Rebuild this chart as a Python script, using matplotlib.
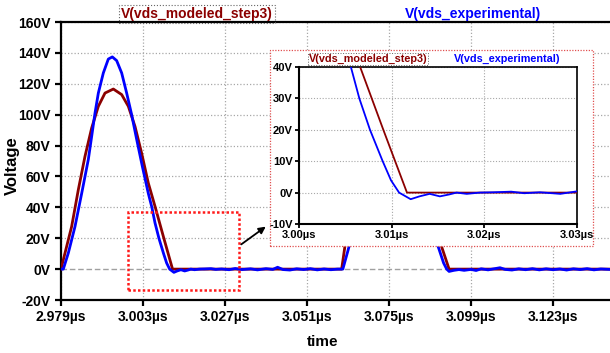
import matplotlib
matplotlib.use("Agg")
import matplotlib.pyplot as plt
from matplotlib.patches import Rectangle

plt.rcParams['font.family'] = ['Liberation Sans', 'DejaVu Sans']
plt.rcParams['font.weight'] = 'bold'

# modeled waveform (time in us, volts)
t_mod = [2.979, 2.9790, 2.98017, 2.98212, 2.98407, 2.98602, 2.98798, 2.98993, 2.99188,
         2.99432, 2.99676, 2.99871, 3.00066, 3.00261, 3.00456, 3.0066, 3.0091, 3.01165,
         3.06115, 3.0621, 3.0636, 3.0656, 3.0675, 3.0695, 3.0714, 3.0734, 3.0758,
         3.0782, 3.0802, 3.0821, 3.0841, 3.0860, 3.0878, 3.0904, 3.0926, 3.1397]
v_mod = [0, 0, 10.4, 27.6, 51.4, 73, 91.4, 105.4, 114,
         116.6, 113, 105.4, 92.4, 75, 55.7, 40, 20, 0,
         0, 14.6, 27.6, 51.4, 73, 91.4, 105.4, 114, 116.6,
         113, 105.4, 92.4, 75, 55.7, 36.3, 14.6, 0, 0]

# measured waveform
t_exp = [2.979, 2.97968, 2.98114, 2.98310, 2.98505, 2.98700, 2.98798, 2.98895, 2.98993,
         2.99139, 2.99285, 2.99402, 2.99529, 2.99676, 2.99822, 2.99968, 3.00115, 3.00281,
         3.00456, 3.0056, 3.00651, 3.00766, 3.00903, 3.00993, 3.0108, 3.01205, 3.0130,
         3.0141, 3.0152, 3.0162, 3.0170, 3.0181, 3.0195, 3.0210, 3.0229, 3.0243, 3.0260,
         3.0282, 3.0300, 3.0320, 3.0345, 3.0365, 3.0390, 3.0410, 3.0424, 3.0440, 3.0460,
         3.0480, 3.0500, 3.0520, 3.0540, 3.0560, 3.0580, 3.0600, 3.0615, 3.0630, 3.0649,
         3.0668, 3.0688, 3.0707, 3.0717, 3.0732, 3.0746, 3.0758, 3.0771, 3.0785, 3.0800,
         3.0814, 3.0829, 3.0845, 3.0862, 3.0880, 3.0894, 3.0910, 3.0919, 3.0926, 3.0940,
         3.0955, 3.0970, 3.0990, 3.1005, 3.1020, 3.1040, 3.1060, 3.1075, 3.1090, 3.1110,
         3.1130, 3.1150, 3.1170, 3.1190, 3.1210, 3.1230, 3.1250, 3.1270, 3.1290, 3.1310,
         3.1330, 3.1350, 3.1370, 3.1397]
v_exp = [0, 0, 10.4, 27.6, 49, 71, 86, 101, 114,
         127, 136, 137.4, 135, 127, 114, 100, 84, 66.5,
         49, 40, 30, 20, 10, 3.9, 0, -2.1, -1.2,
         -0.4, -1.2, -0.6, 0.0, -0.4, 0.0, 0.1, 0.3, -0.2, 0.1,
         -0.4, 0.4, -0.3, 0.2, -0.5, 0.3, -0.2, 1.2, -0.3, -0.6,
         0.2, -0.3, 0.3, -0.5, 0.1, -0.4, 0.0, 0.0, 12, 28,
         49, 71, 101, 114, 127, 136, 137.4, 135, 127, 114,
         100, 84, 66.5, 49, 30, 14.6, 3.9, 0, -1.5, -0.8,
         -0.3, -0.8, -0.2, -0.9, 0.2, -0.5, 0.3, 0.9, -0.2, -0.6,
         0.2, -0.4, 0.3, -0.5, 0.2, -0.4, 0.1, -0.6, 0.2, -0.3,
         0.3, -0.5, 0.1, -0.2]

main_xticks = [2.979, 3.003, 3.027, 3.051, 3.075, 3.099, 3.123]
main_yticks = [-20, 0, 20, 40, 60, 80, 100, 120, 140, 160]
zoom_xticks = [3.00, 3.01, 3.02, 3.03]
zoom_yticks = [-10, 0, 10, 20, 30, 40]

RED = '#8b0000'
BLUE = '#0000ff'
W, H = 610, 353

fig = plt.figure(figsize=(6.1, 3.53), dpi=100)

ax = fig.add_axes([61 / W, 53 / H, 549 / W, 278 / H])
ax.set_xlim(2.979, 3.1397)
ax.set_ylim(-20, 160)
ax.set_xticks(main_xticks)
ax.set_xticklabels(['%.3fµs' % t for t in main_xticks])
ax.set_yticks(main_yticks)
ax.set_yticklabels(['%dV' % v for v in main_yticks])
for s in ['left', 'bottom', 'top']:
    ax.spines[s].set_linewidth(1.6)
ax.spines['right'].set_visible(False)
ax.tick_params(direction='out', length=4.5, width=1.6, labelsize=10, pad=3)
for lbl in ax.get_xticklabels() + ax.get_yticklabels():
    lbl.set_fontweight('bold')
ax.grid(True, color='#a8a8a8', linestyle=(0, (1, 1.6)), linewidth=0.9)
for gl in ax.get_ygridlines():
    if abs(gl.get_ydata()[0]) < 1e-9:
        gl.set_visible(False)
ax.axhline(0, color='#a0a0a0', linewidth=1, linestyle=(0, (4, 2)), zorder=1)
ax.plot(t_mod, v_mod, color=RED, linewidth=2.0, zorder=3)
ax.plot(t_exp, v_exp, color=BLUE, linewidth=2.0, zorder=4)

# dotted region marker
ax.add_patch(Rectangle((2.9986, -13.3), 3.0311 - 2.9986, 50, fill=False,
                       edgecolor='#ff1a1a', linewidth=1.8, linestyle=(0, (1, 0.9)),
                       zorder=5))

fig.text(12 / W, 1 - 166 / H, 'Voltage', rotation=90, ha='center', va='center',
         fontsize=12, fontweight='bold')
fig.text(323 / W, 1 - 342 / H, 'time', ha='center', va='center',
         fontsize=11, fontweight='bold')
fig.text(197 / W, 1 - 14 / H, 'V(vds_modeled_step3)', ha='center', va='center',
         fontsize=10, fontweight='bold', color=RED,
         bbox=dict(boxstyle='square,pad=0.12', fc='none', ec='#666666',
                   linestyle=':', linewidth=0.8))
fig.text(473 / W, 1 - 14 / H, 'V(vds_experimental)', ha='center', va='center',
         fontsize=10, fontweight='bold', color=BLUE)

# zoom panel backdrop
fig.add_artist(Rectangle((270 / W, 1 - 246 / H), 323 / W, 196 / H,
                         transform=fig.transFigure, facecolor='white',
                         edgecolor='#e05050', linewidth=0.9,
                         linestyle=(0, (1, 1.2)), zorder=1))

fig.add_artist(plt.Annotation('', xy=(268 / W, 1 - 225 / H),
                              xytext=(239 / W, 1 - 246 / H),
                              xycoords='figure fraction', textcoords='figure fraction',
                              arrowprops=dict(arrowstyle='-|>', color='black',
                                              linewidth=1.3, mutation_scale=10),
                              zorder=2))

axi = fig.add_axes([299 / W, 1 - 224 / H, 278 / W, 157 / H])
axi.set_zorder(3)
axi.set_xlim(3.00, 3.03)
axi.set_ylim(-10, 40)
axi.set_xticks(zoom_xticks)
axi.set_xticklabels(['%.2fµs' % t for t in zoom_xticks])
axi.set_yticks(zoom_yticks)
axi.set_yticklabels(['%dV' % v for v in zoom_yticks])
for s in ['left', 'bottom']:
    axi.spines[s].set_linewidth(1.5)
for s in ['top', 'right']:
    axi.spines[s].set_linewidth(1.2)
axi.tick_params(direction='out', length=3, width=1.3, labelsize=8, pad=1.5)
for lbl in axi.get_xticklabels() + axi.get_yticklabels():
    lbl.set_fontweight('bold')
axi.grid(True, color='#a8a8a8', linestyle=(0, (1, 1.6)), linewidth=0.8)
axi.plot(t_mod, v_mod, color=RED, linewidth=1.3, zorder=3)
axi.plot(t_exp, v_exp, color=BLUE, linewidth=1.3, zorder=4)

fig.text(368 / W, 1 - 59 / H, 'V(vds_modeled_step3)', ha='center', va='center',
         fontsize=7.8, fontweight='bold', color=RED, zorder=4,
         bbox=dict(boxstyle='square,pad=0.1', fc='none', ec='#666666',
                   linestyle=':', linewidth=0.7))
fig.text(507 / W, 1 - 59 / H, 'V(vds_experimental)', ha='center', va='center',
         fontsize=7.8, fontweight='bold', color=BLUE, zorder=4)

fig.savefig('out.png', dpi=100)
